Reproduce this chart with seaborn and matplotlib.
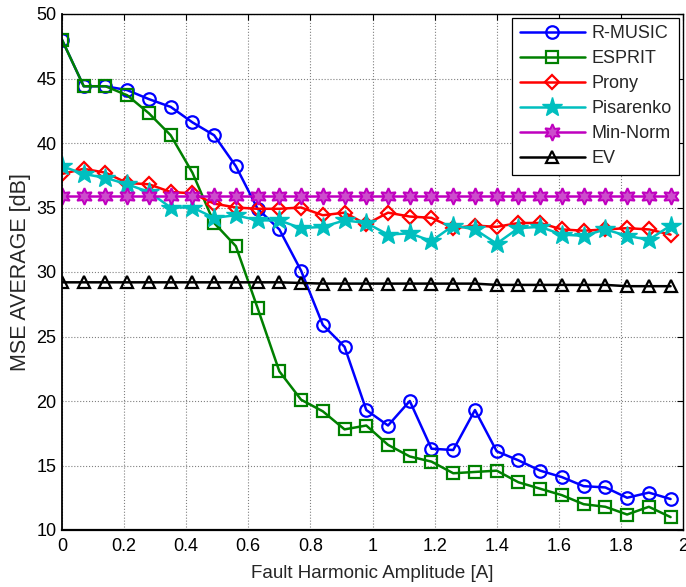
import numpy as np
import pandas as pd
import matplotlib
matplotlib.use("Agg")
import matplotlib.pyplot as plt
import seaborn as sns

amplitude = [0.00, 0.07, 0.14, 0.21, 0.28, 0.35, 0.42, 0.49, 0.56, 0.63,
             0.70, 0.77, 0.84, 0.91, 0.98, 1.05, 1.12, 1.19, 1.26, 1.33,
             1.40, 1.47, 1.54, 1.61, 1.68, 1.75, 1.82, 1.89, 1.96]

r_music = [48.0, 44.4, 44.4, 44.1, 43.4, 42.8, 41.6, 40.6, 38.2, 34.9,
           33.3, 30.1, 25.9, 24.2, 19.3, 18.1, 20.0, 16.3, 16.2, 19.3,
           16.1, 15.4, 14.6, 14.1, 13.4, 13.3, 12.5, 12.9, 12.4]
esprit = [48.0, 44.4, 44.4, 43.7, 42.3, 40.6, 37.7, 33.8, 32.0, 27.2,
          22.3, 20.1, 19.2, 17.8, 18.1, 16.6, 15.7, 15.3, 14.4, 14.5,
          14.6, 13.7, 13.2, 12.7, 12.0, 11.8, 11.2, 11.8, 11.0]
prony = [37.6, 38.0, 37.7, 36.9, 36.8, 36.2, 36.1, 35.3, 35.0, 34.9,
         34.9, 35.0, 34.4, 34.6, 33.7, 34.6, 34.3, 34.2, 33.4, 33.6,
         33.5, 33.8, 33.8, 33.3, 33.2, 33.3, 33.4, 33.3, 32.9]
pisarenko = [38.2, 37.6, 37.3, 36.8, 36.2, 35.0, 35.0, 34.2, 34.4, 34.0,
             34.0, 33.4, 33.5, 34.0, 33.8, 32.9, 33.0, 32.4, 33.6, 33.3,
             32.2, 33.4, 33.5, 32.9, 32.8, 33.3, 32.8, 32.5, 33.6]
min_norm = [35.9] * 29
ev = [29.2, 29.2, 29.2, 29.2, 29.2, 29.2, 29.2, 29.2, 29.2, 29.2,
      29.2, 29.15, 29.1, 29.1, 29.1, 29.1, 29.1, 29.1, 29.1, 29.1,
      29.0, 29.0, 29.0, 29.0, 29.0, 29.0, 28.9, 28.9, 28.9]

series_names = ["R-MUSIC", "ESPRIT", "Prony", "Pisarenko", "Min-Norm", "EV"]
series_values = [r_music, esprit, prony, pisarenko, min_norm, ev]

xticks = [0, 0.2, 0.4, 0.6, 0.8, 1.0, 1.2, 1.4, 1.6, 1.8, 2.0]
xtick_labels = ["0", "0.2", "0.4", "0.6", "0.8", "1", "1.2", "1.4", "1.6", "1.8", "2"]
yticks = [10, 15, 20, 25, 30, 35, 40, 45, 50]

df = pd.DataFrame({
    "x": np.tile(amplitude, len(series_names)),
    "y": np.concatenate(series_values),
    "method": np.repeat(series_names, len(amplitude)),
})

sns.set_style("white")
plt.rcParams["font.family"] = ["Liberation Sans", "DejaVu Sans"]

fig = plt.figure(figsize=(6.86, 5.87), dpi=100)
ax = fig.add_axes([62 / 686, 57 / 587, 621 / 686, 516 / 587])

styles = {
    "R-MUSIC": dict(color=(0, 0, 1), marker="o", markersize=9, mfc="none", mew=1.6),
    "ESPRIT": dict(color=(0, 0.5, 0), marker="s", markersize=9, mfc="none", mew=1.6),
    "Prony": dict(color=(1, 0, 0), marker="D", markersize=7, mfc="none", mew=1.6),
    "Pisarenko": dict(color=(0, 0.75, 0.75), marker="*", markersize=15, mew=1.0),
    "Min-Norm": dict(color=(0.75, 0, 0.75), marker=(6, 1, 0), markersize=12,
                     mfc=(0.8, 0.3, 0.8), mew=1.4),
    "EV": dict(color=(0, 0, 0), marker="^", markersize=9, mfc="none", mew=1.6),
}

for name in series_names:
    st = styles[name]
    sub = df[df["method"] == name]
    sns.lineplot(data=sub, x="x", y="y", ax=ax, label=name,
                 color=st["color"], linewidth=1.8, marker=st["marker"],
                 markersize=st["markersize"],
                 markerfacecolor=st.get("mfc", st["color"]),
                 markeredgecolor=st["color"], markeredgewidth=st["mew"],
                 estimator=None, sort=False)

ax.set_xlim(0, 2)
ax.set_ylim(10, 50)
ax.set_xticks(xticks)
ax.set_xticklabels(xtick_labels)
ax.set_yticks(yticks)
ax.grid(True, linestyle=":", color="#808080", linewidth=0.8)
ax.tick_params(direction="in", top=True, right=True, length=4, width=0.8,
               labelsize=13, colors="black")
ax.tick_params(axis="x", pad=6)
ax.tick_params(axis="y", pad=4)
for sp in ax.spines.values():
    sp.set_visible(True)
    sp.set_color("black")
    sp.set_linewidth(1.0)
ax.spines["bottom"].set_linewidth(1.6)
ax.spines["left"].set_linewidth(1.3)

ax.set_xlabel("Fault Harmonic Amplitude [A]", fontsize=13.5, labelpad=7)
ax.set_ylabel("MSE AVERAGE [dB]", fontsize=15.5, labelpad=4)

leg = ax.legend(loc="upper right", fontsize=13, frameon=True, fancybox=False,
                edgecolor="black", framealpha=1, handlelength=3.6,
                borderaxespad=0.2, labelspacing=0.45, borderpad=0.4,
                handletextpad=0.4)
leg.get_frame().set_linewidth(0.9)

fig.savefig("out.png", dpi=100)
